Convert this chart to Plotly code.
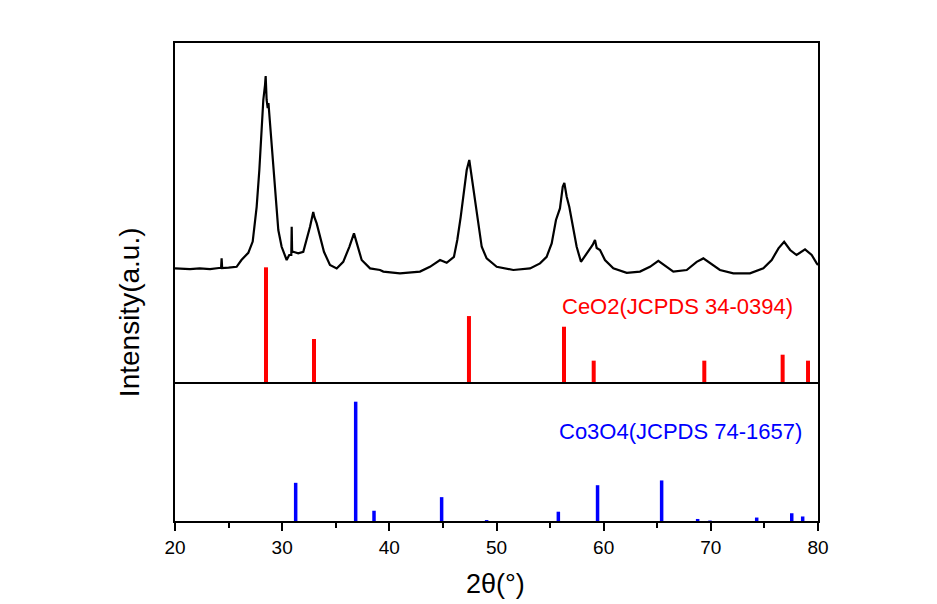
import plotly.graph_objects as go

# Measured XRD pattern of the CeO2/Co3O4 sample (2-theta in degrees, counts in a.u.)
two_theta = [20.0, 20.7, 21.4, 22.3, 23.27, 24.1, 24.3, 24.35, 24.4, 25.0, 25.75, 26.2,
             26.84, 27.25, 27.62, 27.87, 28.09, 28.24, 28.4, 28.46, 28.55, 28.65, 28.72,
             28.77, 28.96, 29.17, 29.42, 29.64, 29.95, 30.42, 30.66, 30.85, 30.89, 30.93,
             31.04, 31.5, 31.97, 32.28, 32.6, 32.9, 33.0, 33.22, 33.53, 33.9, 34.46, 35.09,
             35.7, 36.27, 36.7, 37.01, 37.42, 38.2, 39.13, 39.44, 40.99, 42.86, 43.79,
             44.73, 45.35, 46.03, 46.34, 46.66, 46.97, 47.22, 47.46, 47.68, 47.99, 48.3,
             48.62, 49.08, 50.02, 51.57, 53.13, 54.06, 54.68, 55.15, 55.55, 55.92, 56.18,
             56.33, 56.55, 56.79, 57.11, 57.48, 57.88, 58.42, 58.97, 59.19, 59.35, 59.66,
             60.12, 60.9, 62.15, 63.39, 64.32, 65.1, 65.72, 66.5, 67.75, 68.68, 69.3,
             69.92, 70.85, 72.1, 73.65, 74.9, 75.68, 76.31, 76.84, 77.4, 78.0, 78.79,
             79.41, 79.88, 80.0]
counts = [58, 56, 54, 58, 54, 60, 60, 108, 60, 62, 66, 100,
          136, 192, 366, 550, 766, 900, 975, 1020, 900, 860, 885,
          850, 716, 550, 385, 250, 166, 100, 125, 125, 266, 140,
          141, 133, 141, 200, 266, 340, 315, 283, 216, 141, 75, 58,
          91, 166, 233, 175, 100, 58, 50, 42, 33, 42, 66,
          100, 86, 116, 200, 316, 450, 550, 600, 516, 400, 266,
          166, 108, 66, 50, 58, 83, 116, 183, 300, 358, 466,
          485, 416, 366, 266, 166, 91, 133, 175, 200, 160, 150,
          100, 58, 36, 42, 66, 96, 70, 42, 50, 91, 108,
          83, 50, 33, 33, 58, 100, 158, 191, 150, 125, 153,
          125, 83, 75]

# CeO2 reference lines (JCPDS 34-0394)
ceo2_pos = [28.49, 32.97, 47.43, 56.30, 59.07, 69.39, 76.70, 79.07]
ceo2_int = [100, 37.5, 57.5, 48.2, 18.6, 18.6, 23.8, 18.6]

# Co3O4 reference lines (JCPDS 74-1657)
co3o4_pos = [31.26, 36.86, 38.57, 44.88, 49.08, 55.77, 59.43, 65.41, 68.77, 69.92, 74.28, 77.55, 78.57]
co3o4_int = [32, 100, 8.6, 20, 0.8, 7.8, 30, 34, 1.7, 0.4, 2.9, 6.5, 3.8]

x_ticks = [20, 30, 40, 50, 60, 70, 80]

FONT = "Liberation Sans, Arial, sans-serif"


def sticks(pos, inten):
    xs, ys = [], []
    for p, h in zip(pos, inten):
        xs += [p, p, None]
        ys += [0, h, None]
    return xs, ys


fig = go.Figure()

bx, by = sticks(co3o4_pos, co3o4_int)
fig.add_trace(go.Scatter(x=bx, y=by, mode="lines", xaxis="x", yaxis="y",
                         line=dict(color="#0000ff", width=3.5), hoverinfo="skip"))

rx, ry = sticks(ceo2_pos, ceo2_int)
fig.add_trace(go.Scatter(x=rx, y=ry, mode="lines", xaxis="x2", yaxis="y2",
                         line=dict(color="#ff0000", width=4), hoverinfo="skip"))

fig.add_trace(go.Scatter(x=two_theta, y=counts, mode="lines", xaxis="x2", yaxis="y3",
                         line=dict(color="black", width=2.2)))

split = 0.2908
frame = dict(showline=True, linecolor="black", linewidth=2, showgrid=False, zeroline=False)

fig.update_layout(
    width=937, height=604,
    margin=dict(l=175, r=119, t=43, b=83),
    paper_bgcolor="white", plot_bgcolor="white",
    showlegend=False,
    font=dict(family=FONT, color="black"),
    # bottom axis: only its own line (the divider comes from xaxis2)
    xaxis=dict(domain=[0, 1], anchor="y", range=[20, 80], tickvals=x_ticks, mirror=False,
               ticks="outside", ticklen=8, tickwidth=2, tickcolor="black",
               minor=dict(dtick=5, ticks="outside", ticklen=5, tickwidth=2, tickcolor="black"),
               tickfont=dict(size=19, family=FONT, color="black"), **frame),
    # upper panel axis: draws the divider and the top frame line
    xaxis2=dict(domain=[0, 1], anchor="y2", matches="x", range=[20, 80], mirror=True,
                showticklabels=False, ticks="", **frame),
    yaxis=dict(domain=[0, split], anchor="x", range=[0, 116.5], mirror=True,
               showticklabels=False, ticks="", **frame),
    yaxis2=dict(domain=[split, 1], anchor="x2", range=[0, 295.6], mirror=True,
                showticklabels=False, ticks="", **frame),
    yaxis3=dict(overlaying="y2", anchor="x2", range=[-510, 1185], visible=False),
    annotations=[
        dict(text="CeO2(JCPDS 34-0394)", x=66.93, y=65.7, xref="x2", yref="y2",
             xanchor="center", yanchor="middle",
             showarrow=False, font=dict(size=22, color="#ff0000", family=FONT)),
        dict(text="Co3O4(JCPDS 74-1657)", x=67.16, y=74.8, xref="x", yref="y",
             xanchor="center", yanchor="middle",
             showarrow=False, font=dict(size=22, color="#0000ff", family=FONT)),
        dict(text="Intensity(a.u.)", x=-0.0715, y=0.437, xref="paper", yref="paper",
             xanchor="center", yanchor="middle", textangle=-90,
             showarrow=False, font=dict(size=28, family=FONT, color="black")),
        dict(text="2θ(°)", x=0.4992, y=-0.1318, xref="paper", yref="paper",
             xanchor="center", yanchor="middle",
             showarrow=False, font=dict(size=27, family=FONT, color="black")),
    ],
)

fig.write_html("out.html")
